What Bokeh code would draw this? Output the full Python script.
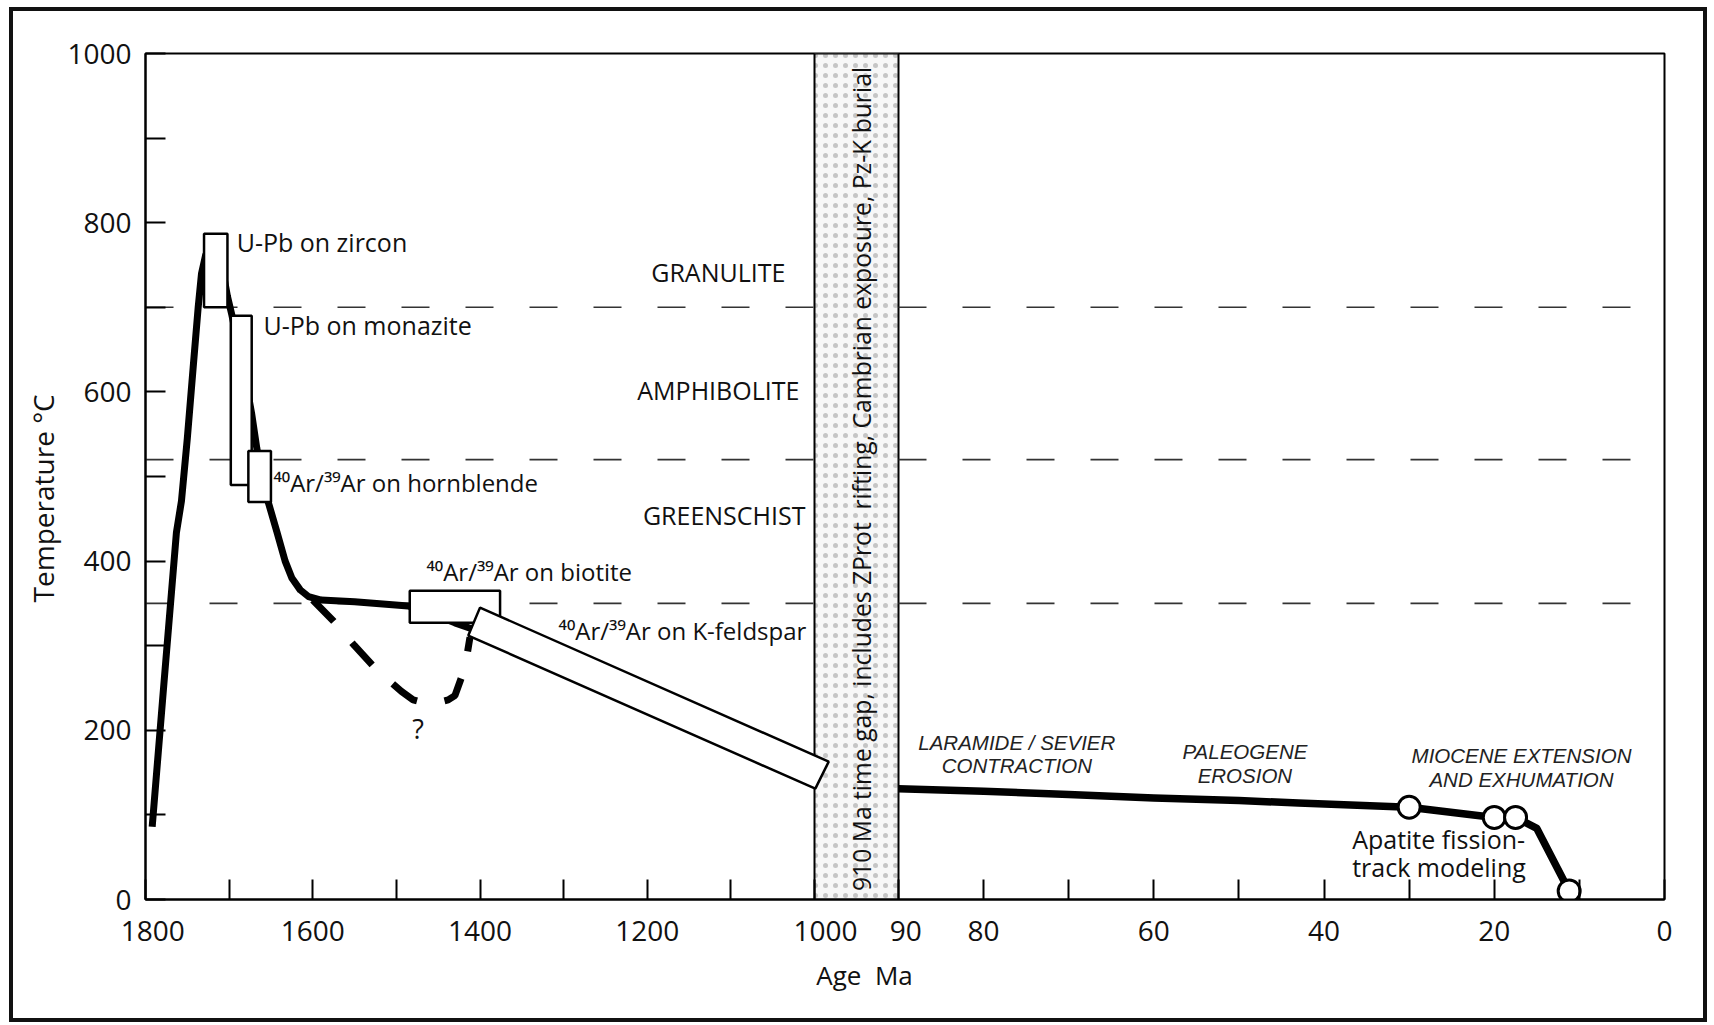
import numpy as np
from bokeh.plotting import figure
from bokeh.models import Range1d, FixedTicker, InlineStyleSheet
from bokeh.embed import file_html
from bokeh.resources import INLINE
from bokeh.core.properties import value

# ------------------------------------------------------------------ data
# metamorphic facies boundaries (deg C) and labels
facies_boundary_temp = [700, 520, 350]
facies_names = ["GRANULITE", "AMPHIBOLITE", "GREENSCHIST"]
facies_label_age = [1115, 1115, 1108]
facies_label_temp = [742, 602, 454]

# thermochronometer boxes (Ma / deg C)
box_names = ["U-Pb on zircon", "U-Pb on monazite"]
box_age_old = [1730, 1698, 1677, 1484]
box_age_young = [1702, 1673, 1650, 1376]
box_temp_low = [700, 490, 470, 327]
box_temp_high = [787, 690, 530, 365]
box_label_age = [1691, 1659]
box_label_temp = [777, 679]

ar_names = ["\u2074\u2070Ar/\u00b3\u2079Ar on hornblende", "\u2074\u2070Ar/\u00b3\u2079Ar on biotite",
            "\u2074\u2070Ar/\u00b3\u2079Ar on K-feldspar"]
ar_label_age = [1647, 1464, 1306]
ar_label_temp = [493, 388, 318]

# K-feldspar cooling band (corner points)
kfs_age = [1414, 1400, 983, 999]
kfs_temp = [312, 345, 163, 131]

# Proterozoic T-t path
path_age = [1792, 1778, 1763, 1757, 1750, 1743, 1737, 1733, 1728, 1722,
            1715, 1708, 1702, 1697, 1690, 1680, 1673, 1667, 1660, 1653,
            1643, 1633, 1625, 1615, 1605, 1590, 1550, 1486, 1455, 1430, 1410]
path_temp = [86, 255, 434, 471, 545, 629, 700, 740, 762, 770,
             766, 745, 713, 692, 660, 612, 574, 534, 495, 469,
             435, 400, 380, 366, 358, 354, 352, 347, 337, 327, 320]

# alternative (uncertain) path
alt_age = [1600, 1575, 1550, 1524, 1494, 1480, 1465, 1450, 1438, 1430, 1418, 1412]
alt_temp = [354, 329, 300, 272, 246, 236, 232, 233, 236, 241, 274, 310]
alt_mark_age = [1474]
alt_mark_temp = [202]

# Phanerozoic path
late_age = [90, 80, 70, 60, 50, 43, 30, 20, 17.5, 15, 11.2]
late_temp = [131, 128, 124, 120, 117, 114, 109, 97, 97, 84, 10]
aft_age = [30, 20, 17.5, 11.2]
aft_temp = [109, 97, 97, 10]

event_lines = ["LARAMIDE / SEVIER", "CONTRACTION", "PALEOGENE", "EROSION",
               "MIOCENE EXTENSION", "AND EXHUMATION"]
event_age = [76.1, 76.1, 49.3, 49.3, 16.8, 16.8]
event_temp = [186, 158, 175, 146, 170, 142]

aft_text = ["Apatite fission-", "track modeling"]
aft_text_age = [36.7, 36.7]
aft_text_temp = [71, 38]

gap_text = "910 Ma time gap, includes ZProt\u00a0 rifting, Cambrian exposure, Pz-K burial"
gap_text_age = [944]
gap_text_temp = [10]

# axes
y_ticks = [0, 200, 400, 600, 800, 1000]
y_minor = [100, 300, 500, 700, 900]
early_ticks = [1800, 1600, 1400, 1200, 1000]
early_minor = [1700, 1500, 1300, 1100]
late_ticks = [90, 80, 60, 40, 20, 0]
late_minor = [70, 50, 30, 10]

# ------------------------------------------------------------------ layout
W, H = 1708, 1023
BL, BR, BT, BB = 145, 44, 53, 124
FRAME_W = W - BL - BR
EARLY_W = 669                  # px for 1800 -> 1000 Ma
GAP_W = 84                     # px of the time gap
LATE_W = FRAME_W - EARLY_W - GAP_W   # px for 90 -> 0 Ma

early_end = 1800 - 800.0 * FRAME_W / EARLY_W
late_start = 90.0 * FRAME_W / LATE_W
gap_right = 1000 - 800.0 * GAP_W / EARLY_W


def late_to_early(a):
    px = EARLY_W + GAP_W + (90 - a) * LATE_W / 90.0
    return round(1800 - px * 800.0 / EARLY_W, 6)


FONT = "Open Sans"
ITAL = "Liberation Sans"
NB = "\u00a0"

frame_css = InlineStyleSheet(css="""
:host::after {
  content: "";
  position: absolute;
  left: 9px; top: 7px; right: 1px; bottom: 1px;
  border: 4px solid #111;
  pointer-events: none;
  z-index: 100;
}
""")

p = figure(width=W, height=H, output_backend="svg", toolbar_location=None, tools="",
           x_range=Range1d(1800, early_end), y_range=Range1d(0, 1000),
           min_border_left=BL, min_border_right=BR, min_border_top=BT, min_border_bottom=BB,
           background_fill_color="white", border_fill_color="white",
           stylesheets=[frame_css])
p.extra_x_ranges = {"late": Range1d(late_start, 0)}
p.xgrid.grid_line_color = None
p.ygrid.grid_line_color = None
p.outline_line_color = "black"
p.outline_line_width = 2

# axes
xt = early_ticks + [late_to_early(a) for a in late_ticks]
xm = early_minor + [late_to_early(a) for a in late_minor]
p.xaxis.ticker = FixedTicker(ticks=xt, minor_ticks=xm)
overrides = {1800: NB * 2 + "1800", 1000: NB * 3 + "1000"}
for a in early_ticks:
    if a not in overrides:
        overrides[a] = str(a)
for a in late_ticks:
    overrides[late_to_early(a)] = (NB * 2 + str(a)) if a == 90 else str(a)
p.xaxis.major_label_overrides = overrides
p.xaxis.axis_label = "Age" + NB * 2 + "Ma" + NB * 12
p.yaxis.ticker = FixedTicker(ticks=y_ticks, minor_ticks=y_minor)
p.yaxis.axis_label = "Temperature \u00b0C" + NB * 6

for ax in (p.xaxis[0], p.yaxis[0]):
    ax.axis_line_width = 2
    ax.axis_line_color = "black"
    ax.major_tick_in = 20
    ax.major_tick_out = 0
    ax.minor_tick_in = 20
    ax.minor_tick_out = 0
    ax.major_tick_line_width = 2
    ax.minor_tick_line_width = 2
    ax.major_tick_line_color = "black"
    ax.minor_tick_line_color = "black"
    ax.major_label_text_font = FONT
    ax.major_label_text_font_size = "28px"
    ax.major_label_text_color = "#111"
    ax.axis_label_text_font = FONT
    ax.axis_label_text_font_style = "normal"
    ax.axis_label_text_color = "#111"
p.yaxis.axis_label_text_font_size = "28px"
p.xaxis.axis_label_text_font_size = "26px"
p.yaxis.major_label_standoff = 14
p.xaxis.major_label_standoff = 11
p.yaxis.axis_label_standoff = 2
p.xaxis.axis_label_standoff = 5

# time-gap band
p.quad(left=[1000], right=[gap_right], bottom=[0], top=[1000],
       fill_color="#f7f7f7", hatch_pattern=".", hatch_color="#888888",
       hatch_scale=10, hatch_weight=1.2, hatch_alpha=0.45,
       line_color="black", line_width=2)

# facies boundaries
for t in facies_boundary_temp:
    p.segment(x0=[1800], x1=[1000], y0=[t], y1=[t], line_color="#333",
              line_width=1.6, line_dash="28 36")
    p.segment(x0=[90], x1=[0], y0=[t], y1=[t], line_color="#333",
              line_width=1.6, line_dash="28 36", x_range_name="late")

# T-t paths
p.line(path_age, path_temp, line_color="black", line_width=7, line_join="round")
p.line(alt_age, alt_temp, line_color="black", line_width=7, line_dash="30 28")
p.line(late_age, late_temp, line_color="black", line_width=7.5, line_join="round",
       x_range_name="late")

# boxes
p.quad(left=box_age_old, right=box_age_young, bottom=box_temp_low, top=box_temp_high,
       fill_color="white", line_color="black", line_width=2.5)
p.patch(kfs_age, kfs_temp, fill_color="white", line_color="black", line_width=2.5)

# apatite fission track points
p.scatter(aft_age, aft_temp, size=22, marker="circle", fill_color="white",
          line_color="black", line_width=3, x_range_name="late")

# texts
p.text(x=facies_label_age, y=facies_label_temp, text=facies_names,
       text_font=value(FONT), text_font_size="25px", text_align="center",
       text_baseline="alphabetic", text_color="#111")
p.text(x=box_label_age, y=box_label_temp, text=box_names,
       text_font=value(FONT), text_font_size="25px", text_align="left",
       text_baseline="alphabetic", text_color="#111")
p.text(x=ar_label_age, y=ar_label_temp, text=ar_names,
       text_font=value(FONT), text_font_size="24px", text_align="left",
       text_baseline="alphabetic", text_color="#111")
p.text(x=alt_mark_age, y=alt_mark_temp, text=["?"],
       text_font=value(FONT), text_font_size="27px", text_align="center",
       text_baseline="middle", text_color="#111")
p.text(x=gap_text_age, y=gap_text_temp, text=[gap_text], angle=np.pi / 2,
       text_font=value(FONT), text_font_size="24.7px", text_align="left",
       text_baseline="middle", text_color="#111")
p.text(x=event_age, y=event_temp, text=event_lines, x_range_name="late",
       text_font=value(ITAL), text_font_style="italic", text_font_size="20.5px",
       text_align="center", text_baseline="alphabetic", text_color="#222")
p.text(x=aft_text_age, y=aft_text_temp, text=aft_text, x_range_name="late",
       text_font=value(FONT), text_font_size="25px", text_align="left",
       text_baseline="alphabetic", text_color="#111")

open("out.html", "w").write(file_html(p, INLINE))
